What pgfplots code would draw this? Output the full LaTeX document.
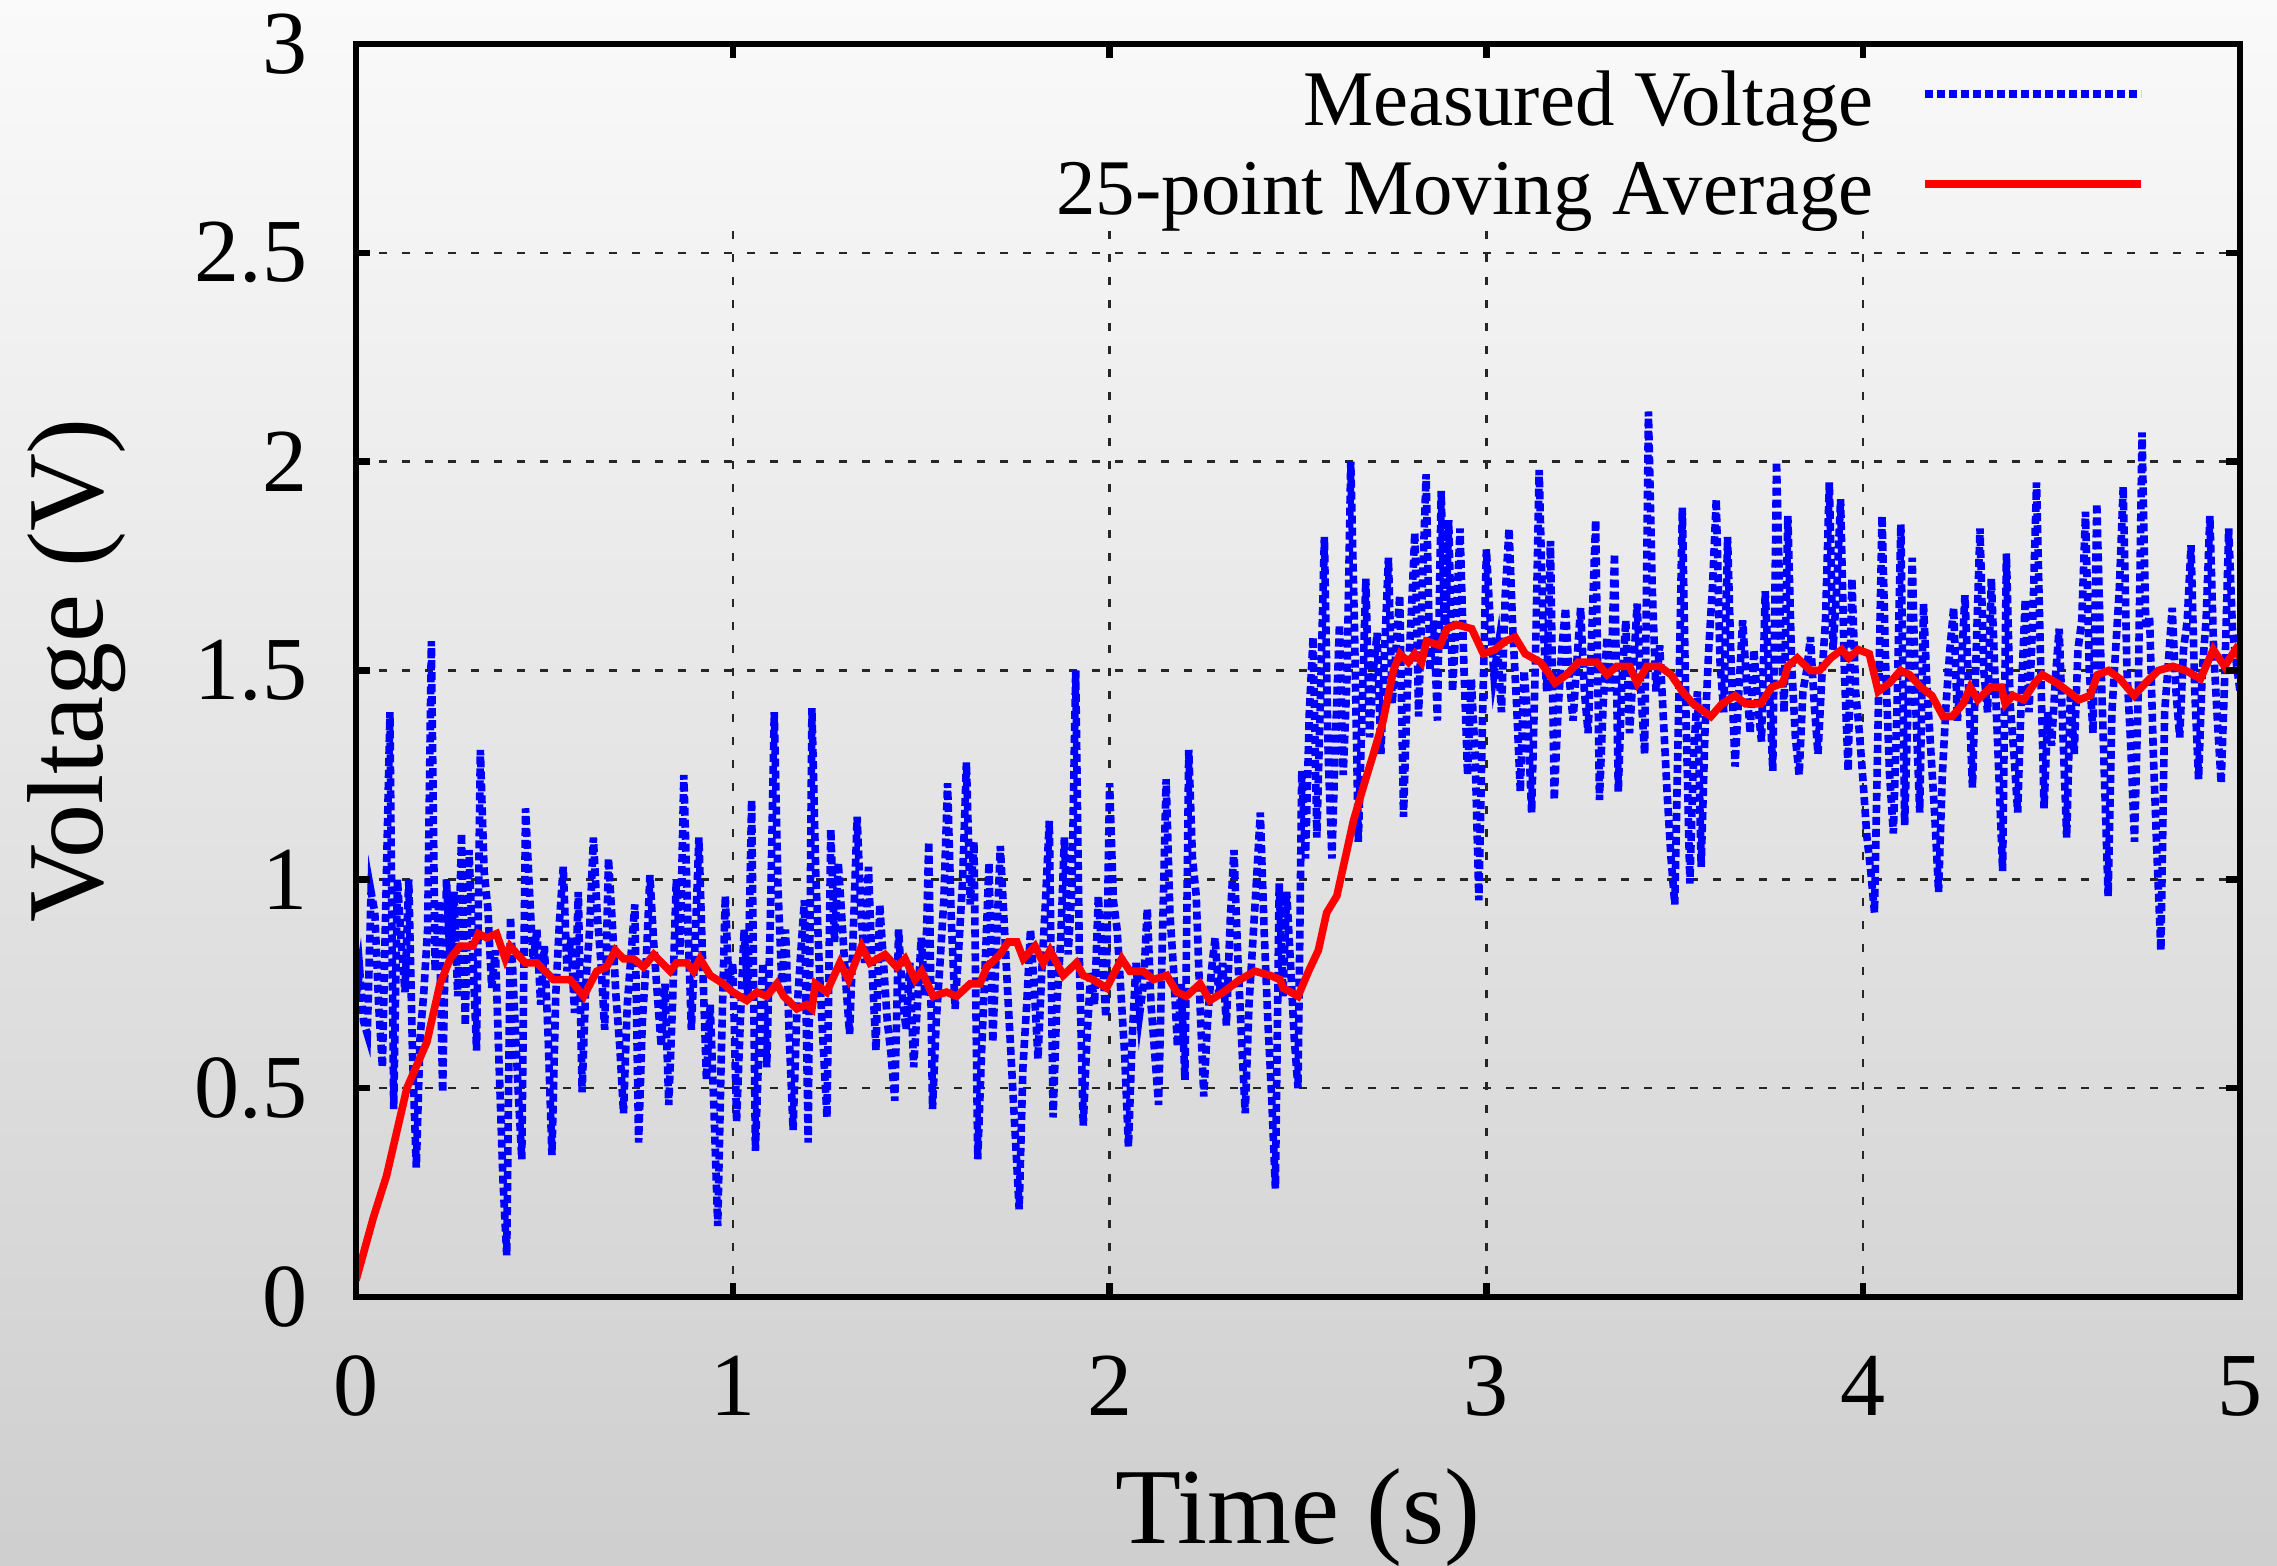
\documentclass[border=0pt]{standalone}
\usepackage{pgfplots}
\pgfplotsset{compat=1.18}
\usepackage{fontspec}
\setmainfont{Liberation Serif}
\begin{document}
\begin{tikzpicture}
\shade[top color=black!2, bottom color=black!19] (-89pt,-67pt) rectangle (480.25pt,324.25pt);
\begin{axis}[
  at={(0,0)}, anchor=south west,
  scale only axis, width=471pt, height=313.25pt,
  xmin=0, xmax=5, ymin=0, ymax=3,
  xtick={0,1,2,3,4,5}, ytick={0,0.5,1,1.5,2,2.5,3},
  tick pos=both, tick align=inside, major tick length=3.5pt,
  every tick/.style={black, line width=1.6pt},
  axis line style={black, line width=1.6pt},
  axis on top=true,
  /pgf/number format/assume math mode=true,
  ticklabel style={font=\fontsize{22.5}{26}\selectfont},
  xticklabel style={anchor=base, inner sep=0pt, yshift=-29.5pt},
  yticklabel style={anchor=east, inner sep=0pt, xshift=-12pt},
  xlabel={Time (s)}, ylabel={Voltage (V)},
  label style={font=\fontsize{27}{31}\selectfont},
  xlabel style={at={(axis description cs:0.5,-0.197)}, anchor=base},
  ylabel style={at={(axis description cs:-0.1348,0.5)}, anchor=base, rotate=0},
  legend style={draw=none, fill=none, at={(rel axis cs:1,1)}, anchor=north east,
    xshift=-23.5pt, yshift=-6.5pt, inner sep=0pt,
    font=\fontsize{19.7}{23}\selectfont, nodes={inner sep=0pt},
    /tikz/column sep=12pt, /tikz/row sep=7.6pt},
  legend cell align=right, legend plot pos=right,
  legend image code/.code={\draw[#1] (0pt,1.8pt) -- (54pt,1.8pt);},
]
\draw[black!85, line width=0.6pt, dash pattern=on 2pt off 3.75pt] (axis cs:0,0.5) -- (axis cs:5,0.5);
\draw[black!85, line width=0.6pt, dash pattern=on 2pt off 3.75pt] (axis cs:0,1) -- (axis cs:5,1);
\draw[black!85, line width=0.6pt, dash pattern=on 2pt off 3.75pt] (axis cs:0,1.5) -- (axis cs:5,1.5);
\draw[black!85, line width=0.6pt, dash pattern=on 2pt off 3.75pt] (axis cs:0,2) -- (axis cs:5,2);
\draw[black!85, line width=0.6pt, dash pattern=on 2pt off 3.75pt] (axis cs:0,2.5) -- (axis cs:5,2.5);
\draw[black!85, line width=0.6pt, dash pattern=on 2pt off 3.75pt] (axis cs:1,0) -- (axis cs:1,2.56);
\draw[black!85, line width=0.6pt, dash pattern=on 2pt off 3.75pt] (axis cs:2,0) -- (axis cs:2,2.56);
\draw[black!85, line width=0.6pt, dash pattern=on 2pt off 3.75pt] (axis cs:3,0) -- (axis cs:3,2.56);
\draw[black!85, line width=0.6pt, dash pattern=on 2pt off 3.75pt] (axis cs:4,0) -- (axis cs:4,2.56);
\addplot[blue, mark=none, line width=1.9pt, dash pattern=on 2pt off 1pt] coordinates {
(0.00,0.72) (0.01,0.78) (0.02,0.66) (0.03,0.63) (0.04,0.97) (0.05,0.92) (0.06,0.70) (0.07,0.55) (0.08,0.98) (0.09,1.40)
(0.10,0.45) (0.11,1.00) (0.12,0.85) (0.13,0.73) (0.14,1.00) (0.15,0.58) (0.16,0.31) (0.17,0.62) (0.18,0.73) (0.19,0.88)
(0.20,1.57) (0.21,0.78) (0.22,0.95) (0.23,0.49) (0.24,1.00) (0.25,0.80) (0.26,0.97) (0.27,0.72) (0.28,1.11) (0.29,0.65)
(0.30,1.07) (0.31,0.82) (0.32,0.59) (0.33,1.31) (0.34,1.02) (0.35,0.93) (0.36,0.74) (0.37,0.83) (0.38,0.55) (0.39,0.28)
(0.40,0.10) (0.41,0.91) (0.42,0.70) (0.43,0.50) (0.44,0.33) (0.45,1.17) (0.46,0.98) (0.47,0.80) (0.48,0.88) (0.49,0.70)
(0.50,0.84) (0.51,0.62) (0.52,0.34) (0.53,0.72) (0.54,0.90) (0.55,1.03) (0.56,0.78) (0.57,0.86) (0.58,0.68) (0.59,0.97)
(0.60,0.49) (0.61,0.75) (0.62,0.88) (0.63,1.10) (0.64,0.92) (0.65,0.80) (0.66,0.64) (0.67,1.05) (0.68,0.90) (0.69,0.72)
(0.70,0.60) (0.71,0.44) (0.72,0.70) (0.73,0.82) (0.74,0.94) (0.75,0.37) (0.76,0.66) (0.77,0.80) (0.78,1.01) (0.79,0.85)
(0.80,0.72) (0.81,0.60) (0.82,0.75) (0.83,0.46) (0.84,0.70) (0.85,1.00) (0.86,0.82) (0.87,1.25) (0.88,0.92) (0.89,0.64)
(0.90,0.85) (0.91,1.10) (0.92,0.80) (0.93,0.52) (0.94,0.70) (0.95,0.45) (0.96,0.17) (0.97,0.60) (0.98,0.96) (0.99,0.74)
(1.00,0.80) (1.01,0.42) (1.02,0.66) (1.03,0.88) (1.04,0.72) (1.05,1.19) (1.06,0.35) (1.07,0.62) (1.08,0.80) (1.09,0.55)
(1.10,0.92) (1.11,1.40) (1.12,0.98) (1.13,0.75) (1.14,0.88) (1.15,0.62) (1.16,0.40) (1.17,0.68) (1.18,0.82) (1.19,0.95)
(1.20,0.37) (1.21,1.41) (1.22,1.02) (1.23,0.78) (1.24,0.60) (1.25,0.43) (1.26,1.12) (1.27,0.85) (1.28,1.04) (1.29,0.90)
(1.30,0.75) (1.31,0.63) (1.32,0.88) (1.33,1.15) (1.34,0.92) (1.35,0.80) (1.36,1.03) (1.37,0.78) (1.38,0.59) (1.39,0.94)
(1.40,0.80) (1.41,0.66) (1.42,0.58) (1.43,0.47) (1.44,0.88) (1.45,0.72) (1.46,0.64) (1.47,0.80) (1.48,0.55) (1.49,0.70)
(1.50,0.86) (1.51,0.72) (1.52,1.09) (1.53,0.45) (1.54,0.66) (1.55,0.80) (1.56,0.95) (1.57,1.23) (1.58,0.90) (1.59,0.69)
(1.60,0.84) (1.61,1.00) (1.62,1.28) (1.63,0.94) (1.64,1.09) (1.65,0.33) (1.66,0.58) (1.67,0.80) (1.68,1.04) (1.69,0.61)
(1.70,0.85) (1.71,1.08) (1.72,0.90) (1.73,0.72) (1.74,0.55) (1.75,0.38) (1.76,0.21) (1.77,0.55) (1.78,0.70) (1.79,0.88)
(1.80,0.74) (1.81,0.57) (1.82,0.78) (1.83,0.95) (1.84,1.14) (1.85,0.43) (1.86,0.70) (1.87,0.85) (1.88,1.10) (1.89,0.82)
(1.90,0.98) (1.91,1.50) (1.92,0.80) (1.93,0.41) (1.94,0.62) (1.95,0.78) (1.96,0.70) (1.97,0.96) (1.98,0.82) (1.99,0.67)
(2.00,1.23) (2.01,0.95) (2.02,0.88) (2.03,0.73) (2.04,0.58) (2.05,0.36) (2.06,0.62) (2.07,0.80) (2.08,0.68) (2.09,0.75)
(2.10,0.93) (2.11,0.70) (2.12,0.58) (2.13,0.46) (2.14,0.85) (2.15,1.24) (2.16,0.92) (2.17,0.78) (2.18,0.60) (2.19,0.75)
(2.20,0.52) (2.21,1.31) (2.22,1.05) (2.23,0.96) (2.24,0.70) (2.25,0.48) (2.26,0.66) (2.27,0.78) (2.28,0.86) (2.29,0.72)
(2.30,0.80) (2.31,0.65) (2.32,0.90) (2.33,1.07) (2.34,0.82) (2.35,0.62) (2.36,0.44) (2.37,0.70) (2.38,0.85) (2.39,1.00)
(2.40,1.16) (2.41,0.88) (2.42,0.66) (2.43,0.48) (2.44,0.26) (2.45,0.99) (2.46,0.72) (2.47,0.97) (2.48,0.80) (2.49,0.62)
(2.50,0.50) (2.51,1.26) (2.52,1.05) (2.53,1.40) (2.54,1.58) (2.55,1.10) (2.56,1.45) (2.57,1.82) (2.58,1.30) (2.59,1.05)
(2.60,1.35) (2.61,1.61) (2.62,1.25) (2.63,1.48) (2.64,2.00) (2.65,1.60) (2.66,1.09) (2.67,1.40) (2.68,1.72) (2.69,1.34)
(2.70,1.50) (2.71,1.59) (2.72,1.30) (2.73,1.55) (2.74,1.77) (2.75,1.42) (2.76,1.55) (2.77,1.68) (2.78,1.15) (2.79,1.45)
(2.80,1.62) (2.81,1.83) (2.82,1.39) (2.83,1.70) (2.84,1.97) (2.85,1.50) (2.86,1.62) (2.87,1.38) (2.88,1.93) (2.89,1.55)
(2.90,1.86) (2.91,1.45) (2.92,1.62) (2.93,1.84) (2.94,1.52) (2.95,1.25) (2.96,1.48) (2.97,1.30) (2.98,0.95) (2.99,1.40)
(3.00,1.79) (3.01,1.62) (3.02,1.49) (3.03,1.55) (3.04,1.40) (3.05,1.68) (3.06,1.84) (3.07,1.60) (3.08,1.42) (3.09,1.21)
(3.10,1.50) (3.11,1.38) (3.12,1.16) (3.13,1.52) (3.14,1.98) (3.15,1.62) (3.16,1.45) (3.17,1.81) (3.18,1.19) (3.19,1.40)
(3.20,1.55) (3.21,1.65) (3.22,1.48) (3.23,1.38) (3.24,1.52) (3.25,1.65) (3.26,1.45) (3.27,1.35) (3.28,1.60) (3.29,1.86)
(3.30,1.19) (3.31,1.42) (3.32,1.58) (3.33,1.45) (3.34,1.78) (3.35,1.21) (3.36,1.48) (3.37,1.62) (3.38,1.35) (3.39,1.50)
(3.40,1.66) (3.41,1.45) (3.42,1.30) (3.43,2.12) (3.44,1.70) (3.45,1.45) (3.46,1.56) (3.47,1.38) (3.48,1.20) (3.49,1.05)
(3.50,0.94) (3.51,1.40) (3.52,1.89) (3.53,1.38) (3.54,0.99) (3.55,1.30) (3.56,1.45) (3.57,1.03) (3.58,1.35) (3.59,1.55)
(3.60,1.70) (3.61,1.91) (3.62,1.52) (3.63,1.40) (3.64,1.82) (3.65,1.50) (3.66,1.27) (3.67,1.45) (3.68,1.62) (3.69,1.48)
(3.70,1.35) (3.71,1.55) (3.72,1.42) (3.73,1.33) (3.74,1.69) (3.75,1.48) (3.76,1.26) (3.77,2.00) (3.78,1.62) (3.79,1.40)
(3.80,1.87) (3.81,1.52) (3.82,1.34) (3.83,1.25) (3.84,1.45) (3.85,1.50) (3.86,1.58) (3.87,1.42) (3.88,1.30) (3.89,1.48)
(3.90,1.62) (3.91,1.95) (3.92,1.55) (3.93,1.70) (3.94,1.91) (3.95,1.50) (3.96,1.26) (3.97,1.72) (3.98,1.45) (3.99,1.35)
(4.00,1.23) (4.01,1.10) (4.02,1.02) (4.03,0.92) (4.04,1.40) (4.05,1.87) (4.06,1.50) (4.07,1.25) (4.08,1.11) (4.09,1.42)
(4.10,1.85) (4.11,1.13) (4.12,1.45) (4.13,1.77) (4.14,1.40) (4.15,1.16) (4.16,1.66) (4.17,1.45) (4.18,1.30) (4.19,1.15)
(4.20,0.97) (4.21,1.25) (4.22,1.42) (4.23,1.55) (4.24,1.65) (4.25,1.38) (4.26,1.50) (4.27,1.68) (4.28,1.45) (4.29,1.22)
(4.30,1.55) (4.31,1.84) (4.32,1.50) (4.33,1.40) (4.34,1.72) (4.35,1.48) (4.36,1.25) (4.37,1.02) (4.38,1.78) (4.39,1.42)
(4.40,1.30) (4.41,1.16) (4.42,1.45) (4.43,1.67) (4.44,1.40) (4.45,1.62) (4.46,1.95) (4.47,1.55) (4.48,1.17) (4.49,1.40)
(4.50,1.32) (4.51,1.48) (4.52,1.60) (4.53,1.35) (4.54,1.10) (4.55,1.45) (4.56,1.30) (4.57,1.55) (4.58,1.62) (4.59,1.88)
(4.60,1.50) (4.61,1.35) (4.62,1.90) (4.63,1.55) (4.64,1.25) (4.65,0.96) (4.66,1.40) (4.67,1.55) (4.68,1.70) (4.69,1.94)
(4.70,1.50) (4.71,1.32) (4.72,1.09) (4.73,1.45) (4.74,2.07) (4.75,1.60) (4.76,1.63) (4.77,1.30) (4.78,1.05) (4.79,0.83)
(4.80,1.40) (4.81,1.52) (4.82,1.65) (4.83,1.45) (4.84,1.34) (4.85,1.55) (4.86,1.62) (4.87,1.80) (4.88,1.45) (4.89,1.24)
(4.90,1.50) (4.91,1.62) (4.92,1.87) (4.93,1.55) (4.94,1.38) (4.95,1.23) (4.96,1.50) (4.97,1.84) (4.98,1.60) (4.99,1.52)
(5.00,1.45)
};
\addlegendentry{Measured Voltage}
\addplot[red, mark=none, line width=1.9pt] coordinates {
(0,0.04) (0.046,0.19) (0.081,0.29) (0.135,0.50) (0.188,0.61) (0.223,0.75) (0.25,0.81) (0.276,0.84) (0.31,0.84) (0.325,0.87)
(0.347,0.86) (0.373,0.87) (0.396,0.81) (0.409,0.84) (0.449,0.80) (0.48,0.80) (0.524,0.76) (0.568,0.76) (0.604,0.72) (0.639,0.78)
(0.665,0.79) (0.688,0.83) (0.71,0.81) (0.736,0.81) (0.763,0.79) (0.79,0.82) (0.834,0.78) (0.851,0.80) (0.878,0.80) (0.896,0.78)
(0.913,0.81) (0.94,0.77) (0.975,0.75) (1.0,0.73) (1.037,0.71) (1.064,0.73) (1.09,0.72) (1.117,0.75) (1.135,0.72) (1.17,0.69)
(1.196,0.70) (1.21,0.69) (1.219,0.75) (1.249,0.73) (1.284,0.80) (1.307,0.76) (1.342,0.84) (1.364,0.80) (1.404,0.82) (1.435,0.79)
(1.457,0.81) (1.484,0.76) (1.501,0.78) (1.532,0.72) (1.567,0.73) (1.594,0.72) (1.63,0.75) (1.656,0.75) (1.674,0.79) (1.709,0.82)
(1.731,0.85) (1.754,0.85) (1.771,0.81) (1.802,0.84) (1.824,0.80) (1.842,0.83) (1.877,0.77) (1.912,0.80) (1.93,0.77) (1.956,0.76)
(1.992,0.74) (2.032,0.81) (2.054,0.78) (2.089,0.78) (2.116,0.76) (2.152,0.77) (2.178,0.73) (2.204,0.72) (2.24,0.75) (2.266,0.71)
(2.302,0.73) (2.346,0.76) (2.386,0.78) (2.426,0.77) (2.452,0.76) (2.461,0.74) (2.5,0.72) (2.528,0.78) (2.554,0.83) (2.576,0.92)
(2.603,0.96) (2.63,1.07) (2.647,1.14) (2.673,1.22) (2.7,1.30) (2.726,1.38) (2.753,1.50) (2.771,1.54) (2.793,1.52) (2.81,1.54)
(2.828,1.52) (2.841,1.57) (2.877,1.56) (2.895,1.60) (2.921,1.61) (2.961,1.60) (2.992,1.54) (3.023,1.55) (3.05,1.57) (3.076,1.58)
(3.103,1.54) (3.143,1.52) (3.16,1.50) (3.182,1.47) (3.213,1.49) (3.244,1.52) (3.293,1.52) (3.32,1.49) (3.346,1.51) (3.38,1.51)
(3.4,1.47) (3.426,1.51) (3.46,1.51) (3.49,1.49) (3.52,1.45) (3.549,1.42) (3.596,1.39) (3.625,1.42) (3.66,1.44) (3.688,1.42)
(3.728,1.42) (3.757,1.46) (3.787,1.47) (3.8,1.51) (3.825,1.53) (3.86,1.50) (3.884,1.50) (3.914,1.53) (3.943,1.55) (3.962,1.53)
(3.987,1.55) (4.016,1.54) (4.04,1.45) (4.07,1.47) (4.099,1.50) (4.123,1.49) (4.153,1.46) (4.182,1.44) (4.212,1.39) (4.236,1.39)
(4.265,1.42) (4.284,1.46) (4.304,1.43) (4.338,1.46) (4.367,1.46) (4.377,1.42) (4.397,1.44) (4.426,1.43) (4.455,1.47) (4.475,1.49)
(4.514,1.47) (4.544,1.45) (4.573,1.43) (4.602,1.44) (4.622,1.49) (4.651,1.50) (4.681,1.48) (4.719,1.44) (4.749,1.47) (4.783,1.50)
(4.822,1.51) (4.856,1.50) (4.895,1.48) (4.929,1.55) (4.959,1.51) (4.988,1.55) (5.0,1.53)
};
\addlegendentry{25-point Moving Average}
\end{axis}
\pgfresetboundingbox
\path[use as bounding box] (-89pt,-67pt) rectangle (480.25pt,324.25pt);
\end{tikzpicture}
\end{document}
